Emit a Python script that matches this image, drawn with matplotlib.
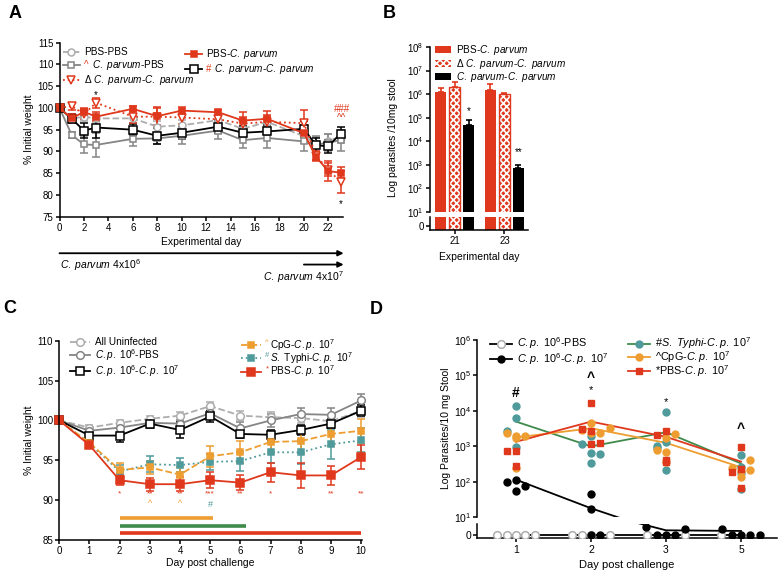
import matplotlib
matplotlib.use('Agg')
import matplotlib.pyplot as plt
import matplotlib.transforms as mtrans
import numpy as np
from matplotlib.lines import Line2D
from matplotlib.patches import Patch
from matplotlib.legend import Legend
from matplotlib.ticker import NullLocator

plt.rcParams['font.family'] = ['Liberation Sans', 'DejaVu Sans']
plt.rcParams['mathtext.fontset'] = 'custom'
plt.rcParams['mathtext.rm'] = 'Liberation Sans'
plt.rcParams['mathtext.it'] = 'Liberation Sans:italic'
plt.rcParams['mathtext.bf'] = 'Liberation Sans:bold'
plt.rcParams['font.size'] = 7
plt.rcParams['axes.linewidth'] = 1.1
plt.rcParams['hatch.linewidth'] = 1.2

RED = '#E0381C'
ORANGE = '#EE9D30'
TEAL = '#4F9A9B'
GREEN = '#3F8B4B'
GRAY = '#858585'
LGRAY = '#ADADAD'

# ---------------- panel A : weight over experimental days
days_A = [0, 1, 2, 3, 6, 8, 10, 13, 15, 17, 20, 21, 22, 23]
pbs_pbs = [100, 97.5, 98.0, 97.6, 97.6, 95.7, 96.0, 97.2, 95.2, 96.8, 93.5, 91.8, 92.5, 93.4]
pbs_pbs_err = [0, 0.8, 1.0, 1.0, 1.0, 1.2, 1.2, 1.0, 1.5, 1.2, 1.5, 1.5, 1.5, 1.5]
cp_pbs = [100, 93.8, 91.6, 91.5, 92.9, 93.0, 93.6, 94.8, 92.6, 93.1, 92.3, 91.6, 92.0, 92.6]
cp_pbs_err = [0, 0.6, 1.9, 2.8, 1.7, 1.3, 1.9, 2.0, 1.9, 2.2, 2.3, 2.0, 2.0, 2.4]
dcp_cp = [100, 100.4, 98.6, 101.2, 98.0, 98.0, 97.8, 97.4, 96.4, 96.8, 96.5, 89.0, 85.8, 83.0]
dcp_cp_err = [0, 0.8, 1.2, 1.2, 1.5, 2.0, 1.5, 1.0, 1.5, 1.5, 3.0, 1.0, 1.5, 2.6]
pbs_cp = [100, 97.6, 99.1, 98.0, 99.8, 98.1, 99.4, 99.0, 97.1, 97.5, 94.2, 88.7, 85.5, 85.1]
pbs_cp_err = [0, 1.0, 1.0, 1.0, 0.6, 2.2, 0.8, 0.6, 2.0, 1.9, 1.8, 0.8, 2.3, 1.3]
cp_cp = [100, 97.5, 94.8, 95.5, 95.0, 93.6, 94.3, 95.7, 94.3, 94.6, 95.2, 91.4, 91.2, 94.1]
cp_cp_err = [0, 1.0, 1.8, 2.3, 1.3, 1.8, 1.5, 1.5, 1.5, 1.5, 1.8, 1.8, 1.5, 1.5]

# ---------------- panel B : parasites in stool
days_B = ['21', '23']
b_pbs = [1.2e6, 1.45e6]
b_pbs_err = [6.6e5, 1.2e6]
b_dcp = [2.1e6, 1.05e6]
b_dcp_err = [1.1e6, 3e4]
b_cpcp = [4.8e4, 740]
b_cpcp_err = [3e4, 260]

# ---------------- panel C : weight post challenge
days_C = list(range(11))
c_uninf = [100, 99.1, 99.7, 100.2, 100.6, 101.8, 100.6, 100.4, 100.3, 99.9, 101.2]
c_uninf_err = [0, 0.3, 0.4, 0.4, 0.5, 0.5, 0.6, 0.6, 0.6, 0.6, 0.8]
c_cp_pbs = [100, 98.7, 99.1, 99.7, 99.6, 100.9, 99.0, 100.0, 100.8, 100.7, 102.5]
c_cp_pbs_err = [0, 0.4, 0.5, 0.4, 0.5, 0.6, 0.8, 0.8, 0.8, 0.8, 0.8]
c_cp_cp = [100, 98.1, 98.1, 99.6, 98.8, 100.5, 98.3, 98.2, 98.8, 99.6, 101.2]
c_cp_cp_err = [0, 0.5, 0.8, 0.5, 1.0, 0.7, 0.5, 0.6, 0.6, 0.6, 0.7]
c_cpg = [100, 97.2, 93.8, 94.1, 93.2, 95.5, 96.0, 97.3, 97.4, 98.3, 98.7]
c_cpg_err = [0, 0.5, 0.8, 0.8, 0.9, 1.3, 1.4, 1.2, 1.5, 1.5, 1.5]
c_typhi = [100, 97.1, 93.6, 94.5, 94.4, 94.8, 94.9, 96.0, 96.0, 97.0, 97.5]
c_typhi_err = [0, 0.5, 0.8, 1.0, 0.9, 1.0, 1.2, 1.3, 1.5, 1.8, 1.5]
c_pbs = [100, 96.9, 92.5, 92.0, 92.0, 92.5, 92.2, 93.5, 93.1, 93.1, 95.4]
c_pbs_err = [0, 0.4, 0.6, 0.8, 0.9, 1.0, 0.9, 1.2, 1.6, 1.2, 1.5]
pbs_star_days = [2, 3, 4, 5, 6, 7, 9, 10]
pbs_stars = ['*', '**', '**', '***', '**', '*', '**', '**']
cpg_hat_days = [3, 4]
typhi_hash_days = [5]
sig_start = [2, 2, 2]
sig_end = [5.1, 6.2, 10]
sig_level = [87.8, 86.8, 85.85]

# ---------------- panel D : parasites post challenge (individual mice)
days_D = ['1', '2', '3', '5']
d_typhi = [[13500, 6300, 930, 2630], [1150, 660, 350, 600, 2000],
           [9300, 1350, 1020, 214, 890], [575, 257, 174, 62]]
d_typhi_jit = [[0, 0, 0, -0.12], [-0.12, 0, 0, 0.12, 0],
               [0, 0, -0.12, 0, -0.12], [0, 0, 0, 0]]
d_cpg = [[2400, 2000, 2000, 250, 1780], [4570, 2880, 2400, 2400, 3310],
         [2290, 1740, 790, 680, 355], [417, 250, 214, 135, 200]]
d_cpg_jit = [[-0.12, 0, 0.12, 0, 0], [0, -0.12, 0, 0.12, 0.25],
             [0.12, 0, -0.12, 0, 0], [0.12, -0.12, 0.12, 0, 0]]
d_pbs = [[760, 760, 280], [16600, 3160, 2700, 1200, 1260],
         [2700, 2090, 417, 363], [930, 186, 69, 224]]
d_pbs_jit = [[-0.12, 0, 0], [0, -0.12, 0, 0, 0.12],
             [0, -0.12, 0, 0], [0, -0.12, 0, 0]]
d_cpcp = [[100, 112, 56, 76], [46, 17, 0, 0], [6, 0, 0, 0, 4.5], [4.5, 0, 0, 0, 0]]
d_cpcp_jit = [[-0.12, 0, 0, 0.12], [0, 0, 0, 0.12],
              [-0.27, -0.12, 0, 0.12, 0.25], [-0.25, -0.12, 0, 0.12, 0.25]]
d_cppbs = [[0, 0, 0, 0, 0], [0, 0, 0, 0], [0, 0], [0]]
d_cppbs_jit = [[-0.25, -0.12, 0, 0.12, 0.25], [-0.25, -0.12, 0, 0.25],
               [-0.25, 0.25], [-0.27]]
line_typhi = [5000, 1000, 2500, 330]
line_cpg = [1780, 3240, 1260, 257]
line_pbs = [1350, 5000, 1860, 372]
line_cpcp = [115, 18, 3.5, 3]
line_cppbs = [0, 0, 0, 0]

W, H = 780, 577
fig = plt.figure(figsize=(W / 100, H / 100), dpi=100)


def style(ax, fs=7):
    ax.spines['top'].set_visible(False)
    ax.spines['right'].set_visible(False)
    ax.tick_params(direction='out', length=3, width=1.1, labelsize=fs, pad=1.5)


def fa(x0, y0, x1, y1):
    # pixel box -> figure fraction rect
    return [x0 / W, 1 - y1 / H, (x1 - x0) / W, (y1 - y0) / H]


def leg(ax, handles, labels, anchor, fs=7.5, hl=2.0, sp=0.0, tp=0.5):
    lg = Legend(ax, handles, labels, loc='upper left', bbox_to_anchor=anchor,
                frameon=False, fontsize=fs, handlelength=hl, handletextpad=tp,
                labelspacing=sp, borderpad=0, borderaxespad=0)
    ax.add_artist(lg)
    return lg


# ================= A
axA = fig.add_axes(fa(59.5, 42.7, 343, 216.7))
style(axA)
seriesA = [
    (pbs_pbs, pbs_pbs_err, dict(color=LGRAY, ls='--', marker='o', mfc='white', ms=5)),
    (cp_pbs, cp_pbs_err, dict(color=GRAY, ls='-', marker='s', mfc='white', ms=5)),
    (cp_cp, cp_cp_err, dict(color='black', ls='-', marker='s', mfc='white', ms=5.5)),
    (dcp_cp, dcp_cp_err, dict(color=RED, ls=':', marker='v', mfc='white', ms=5.5)),
    (pbs_cp, pbs_cp_err, dict(color=RED, ls='-', marker='s', mfc=RED, ms=5)),
]
for y, e, st in seriesA:
    axA.errorbar(days_A, y, yerr=e, capsize=3, elinewidth=1.1, capthick=1.1,
                 lw=1.3, mew=1.1, clip_on=False, **st)
axA.set_xlim(0, 23.2)
axA.set_ylim(75, 115)
axA.set_xticks(range(0, 23, 2))
axA.set_yticks(range(75, 116, 5))
axA.set_ylabel('% Initial weight', fontsize=7.5, labelpad=2)
axA.set_xlabel('Experimental day', fontsize=7.5, labelpad=3)
axA.text(3, 103.0, '*', ha='center', va='center', fontsize=7)
axA.text(23.1, 99.8, '###', ha='center', va='center', fontsize=7, color=RED)
axA.text(23.1, 97.6, '^^', ha='center', va='center', fontsize=7, color=RED)
axA.text(23, 78.0, '*', ha='center', va='center', fontsize=7)

h = [Line2D([], [], **st, lw=1.3, mew=1.1) for _, _, st in seriesA]
lgA1 = leg(axA, [h[0], h[1], h[3]],
           ['PBS-PBS', r'   $\it{C.\ parvum}$-PBS', r'Δ $\it{C.\ parvum}$-$\it{C.\ parvum}$'],
           (0.012, 0.975), fs=7.2, hl=1.7, sp=0.12, tp=0.4)
lgA2 = leg(axA, [h[4], h[2]],
           [r'PBS-$\it{C.\ parvum}$', r'   $\it{C.\ parvum}$-$\it{C.\ parvum}$'],
           (0.443, 0.975), fs=7.2, hl=1.7, sp=0.12, tp=0.4)

bt = mtrans.blended_transform_factory(axA.transData, axA.transAxes)
ap = dict(arrowstyle='-|>', color='black', lw=1.3, mutation_scale=8, shrinkA=0, shrinkB=0)
axA.annotate('', xy=(23.25, -0.21), xytext=(0, -0.21), xycoords=bt, arrowprops=ap,
             annotation_clip=False)
axA.annotate('', xy=(23.25, -0.275), xytext=(20, -0.275), xycoords=bt, arrowprops=ap,
             annotation_clip=False)
axA.text(0, -0.232, r'$\it{C.\ parvum}$ 4x10$^6$', transform=bt, ha='left', va='top',
         fontsize=7.5)
axA.text(23.25, -0.3, r'$\it{C.\ parvum}$ 4x10$^7$', transform=bt, ha='right', va='top',
         fontsize=7.5)

# ================= B
axB = fig.add_axes(fa(430, 47, 528, 212))
axB2 = fig.add_axes(fa(430, 217, 528, 230))
for a in (axB, axB2):
    style(a, 7)
axB.spines['bottom'].set_visible(False)
axB.set_yscale('log')
axB.set_ylim(10, 1e8)
axB2.set_ylim(-1.4, 3.1)
gpos = np.array([0, 3.57])
bw = 0.8
bars = [(b_pbs, b_pbs_err, RED, None), (b_dcp, b_dcp_err, RED, 'xxxxx'),
        (b_cpcp, b_cpcp_err, 'black', None)]
for j, (v, e, c, hatch) in enumerate(bars):
    x = gpos + j
    for a in (axB, axB2):
        bot = 1 if a is axB else -1.4
        if hatch:
            a.bar(x, v, bw, bottom=bot, color=c, edgecolor='white', hatch=hatch, lw=0)
            a.bar(x, v, bw, bottom=bot, fill=False, edgecolor=c, lw=1)
        else:
            a.bar(x, v, bw, bottom=bot, color=c, lw=0)
    axB.errorbar(x, v, yerr=[np.zeros(len(v)), e], fmt='none', ecolor=c,
                 elinewidth=1.2, capsize=2.5, capthick=1.2)
for a in (axB, axB2):
    a.set_xlim(-0.75, 6.25)
axB.set_xticks([])
axB.set_yticks([10 ** k for k in range(1, 9)])
axB.yaxis.set_minor_locator(NullLocator())
axB2.set_yticks([0])
axB2.set_xticks(gpos + 1)
axB2.set_xticklabels(days_B)
axB2.set_xlabel('Experimental day', fontsize=7.5, labelpad=4)
axB.set_ylabel('Log parasites /10mg stool', fontsize=7.5, labelpad=2)
axB.yaxis.set_label_coords(-0.33, 0.45)
axB.text(2, 2.0e5, '*', ha='center', va='center', fontsize=7)
axB.text(gpos[1] + 2, 3.5e3, '**', ha='center', va='center', fontsize=7)
hB = [Patch(facecolor=RED), Patch(facecolor=RED, edgecolor='white', hatch='xxxxx', lw=0),
      Patch(facecolor='black')]
leg(axB, hB, ['PBS-$\\it{C.\\ parvum}$', 'Δ $\\it{C.\\ parvum}$-$\\it{C.\\ parvum}$',
              '$\\it{C.\\ parvum}$-$\\it{C.\\ parvum}$'], (0.05, 1.024), fs=7.2, hl=1.6,
    sp=-0.05)

# ================= C
axC = fig.add_axes(fa(59.3, 340.7, 362, 540))
style(axC)
seriesC = [
    (c_uninf, c_uninf_err, dict(color=LGRAY, ls='--', marker='o', mfc='white', ms=5.5)),
    (c_cp_pbs, c_cp_pbs_err, dict(color=GRAY, ls='-', marker='o', mfc='white', ms=5.5)),
    (c_cp_cp, c_cp_cp_err, dict(color='black', ls='-', marker='s', mfc='white', ms=5.5)),
    (c_typhi, c_typhi_err, dict(color=TEAL, ls=':', marker='s', mfc=TEAL, ms=4.5)),
    (c_cpg, c_cpg_err, dict(color=ORANGE, ls='--', marker='s', mfc=ORANGE, ms=4.5)),
    (c_pbs, c_pbs_err, dict(color=RED, ls='-', marker='s', mfc=RED, ms=6)),
]
for y, e, st in seriesC:
    axC.errorbar(days_C, y, yerr=e, capsize=3, elinewidth=1.1, capthick=1.1,
                 lw=1.3, mew=1.1, clip_on=False, **st)
axC.hlines(sig_level, sig_start, sig_end, colors=[ORANGE, GREEN, RED], lw=2.6)
for d, s in zip(pbs_star_days, pbs_stars):
    axC.text(d, 90.75, s, ha='center', va='center', fontsize=6, color=RED)
for d in cpg_hat_days:
    axC.text(d, 89.6, '^', ha='center', va='center', fontsize=6.5, color=ORANGE)
for d in typhi_hash_days:
    axC.text(d, 89.4, '#', ha='center', va='center', fontsize=6.5, color=TEAL)
axC.set_xlim(0, 10.03)
axC.set_ylim(85, 110)
axC.set_xticks(days_C)
axC.set_yticks(range(85, 111, 5))
axC.set_ylabel('% Initial weight', fontsize=7.5, labelpad=2)
axC.set_xlabel('Day post challenge', fontsize=7.5, labelpad=1)
hC = [Line2D([], [], **st, lw=1.3, mew=1.1) for _, _, st in seriesC]
leg(axC, hC[:3], ['All Uninfected', r'$\it{C.p.}$ 10$^6$-PBS',
                  r'$\it{C.p.}$ 10$^6$-$\it{C.p.}$ 10$^7$'], (0.036, 1.018), fs=7.2)
lgC2 = leg(axC, [hC[4], hC[3], hC[5]],
           [r'CpG-$\it{C.p.}$ 10$^7$', r'$\it{S.}$ Typhi-$\it{C.p.}$ 10$^7$',
            r'PBS-$\it{C.p.}$ 10$^7$'], (0.6, 1.02), fs=7.2, sp=-0.25, tp=0.9)

# ================= D
axD = fig.add_axes(fa(477.3, 340, 777, 517.3))
axD2 = fig.add_axes(fa(477.3, 524.3, 777, 538.3))
for a in (axD, axD2):
    style(a, 7.5)
axD.spines['bottom'].set_visible(False)
axD.set_yscale('log')
axD.set_ylim(10, 1e6)
axD2.set_ylim(-2.5, 8)
xd = np.arange(1, 5)
groupsD = [
    (d_cppbs, d_cppbs_jit, line_cppbs, dict(marker='o', mfc='white', mec=LGRAY, ms=5.5, mew=1.1), 'black'),
    (d_cpcp, d_cpcp_jit, line_cpcp, dict(marker='o', mfc='black', mec='black', ms=5), 'black'),
    (d_typhi, d_typhi_jit, line_typhi, dict(marker='o', mfc=TEAL, mec=TEAL, ms=5), GREEN),
    (d_cpg, d_cpg_jit, line_cpg, dict(marker='o', mfc=ORANGE, mec=ORANGE, ms=5), ORANGE),
    (d_pbs, d_pbs_jit, line_pbs, dict(marker='s', mfc=RED, mec=RED, ms=5), RED),
]
for vals, jit, med, mst, lc in groupsD:
    for a in (axD, axD2):
        a.plot(xd, med, color=lc, lw=1.3, zorder=2)
        for i in range(4):
            a.plot(xd[i] + np.array(jit[i]), vals[i], ls='none', zorder=3, **mst)
for a in (axD, axD2):
    a.set_xlim(0.484, 4.48)
axD.set_xticks([])
axD.set_yticks([10 ** k for k in range(1, 7)])
axD.yaxis.set_minor_locator(NullLocator())
axD2.set_yticks([0])
axD2.set_xticks(xd)
axD2.set_xticklabels(days_D)
axD2.set_xlabel('Day post challenge', fontsize=8, labelpad=4)
axD.set_ylabel('Log Parasites/10 mg Stool', fontsize=7.5, labelpad=2)
axD.text(1, 10 ** 4.5, '#', ha='center', va='center', fontsize=10, weight='bold')
axD.text(2, 10 ** 4.93, '^', ha='center', va='center', fontsize=10, weight='bold')
axD.text(2, 10 ** 4.6, '*', ha='center', va='center', fontsize=8)
axD.text(3, 10 ** 4.25, '*', ha='center', va='center', fontsize=8)
axD.text(4, 10 ** 3.48, '^', ha='center', va='center', fontsize=10, weight='bold')
hD = [Line2D([], [], color=lc, lw=1.3, ls='-', **mst) for _, _, _, mst, lc in groupsD]
leg(axD, hD[:2], [r'$\it{C.p.}$ 10$^6$-PBS', r'$\it{C.p.}$ 10$^6$-$\it{C.p.}$ 10$^7$'],
    (0.043, 1.025), fs=7.8, sp=-0.05)
leg(axD, hD[2:], [r'#$\it{S.\ Typhi}$-$\it{C.p.}$ 10$^7$', r'^CpG-$\it{C.p.}$ 10$^7$',
                  r'*PBS-$\it{C.p.}$ 10$^7$'], (0.503, 1.025), fs=7.8, sp=-0.2)

# panel letters
for s, x, y in [('A', 9, 5), ('B', 383, 5), ('C', 3, 300), ('D', 370, 301)]:
    fig.text(x / W, 1 - y / H, s, fontsize=13, weight='bold', va='top', ha='left')

# coloured prefixes inside legends
fig.canvas.draw()
r = fig.canvas.get_renderer()


def prefix(lg, i, sym, col, fs, dy=0.0, before=False):
    bb = lg.get_texts()[i].get_window_extent(r)
    x = bb.x0 - 1 if before else bb.x0
    fig.text(x / W, ((bb.y0 + bb.y1) / 2 + dy) / H, sym, color=col, fontsize=fs,
             ha='right' if before else 'left', va='center')


prefix(lgA1, 1, '^', RED, 7)
prefix(lgA2, 1, '#', RED, 7)
prefix(lgC2, 0, '^', ORANGE, 5.5, 2, True)
prefix(lgC2, 1, '#', TEAL, 5.5, 2, True)
prefix(lgC2, 2, '*', RED, 5.5, 2, True)

fig.savefig('out.png', dpi=100)
